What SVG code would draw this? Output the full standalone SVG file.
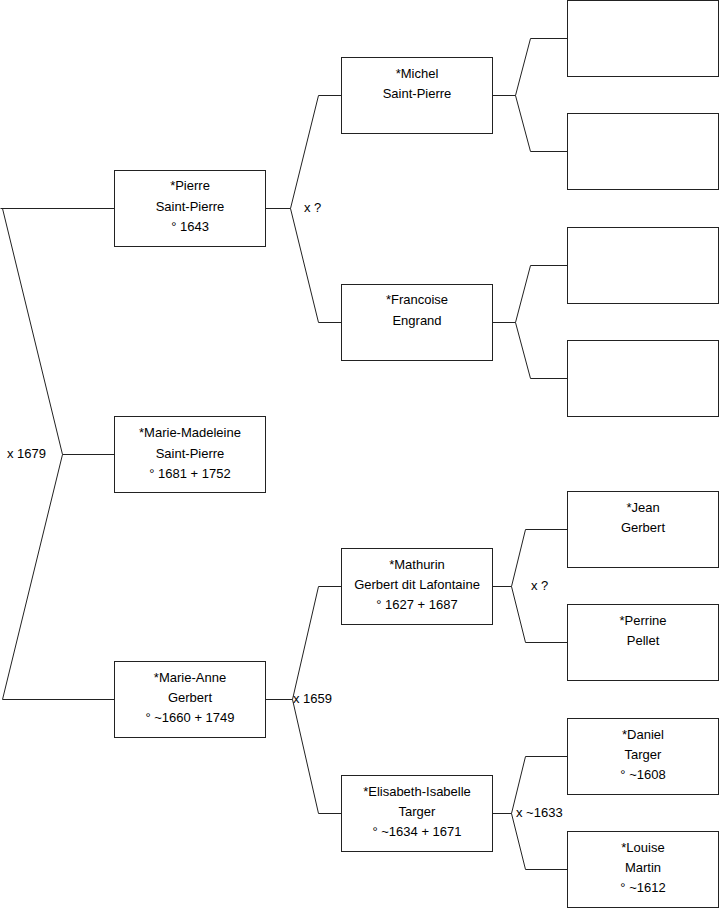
<svg xmlns="http://www.w3.org/2000/svg" width="719" height="908" viewBox="0 0 719 908">
<style>
.box{fill:#fff;stroke:#222;stroke-width:1}
.c{fill:none;stroke:#222;stroke-width:1}
text{font-family:"Liberation Sans",Arial,sans-serif;font-size:13px;fill:#000}
.m{text-anchor:middle}
</style>
<rect width="719" height="908" fill="#fff"/>
<g id="connectors">
<path class="c" d="M0.5,208.5H114.5M2.5,208.5L62.5,454.5H114.5M62.5,454.5L2.5,699.5H114.5"/>
<path class="c" d="M265.5,208.5H290.5L318.5,95.5H341.5M290.5,208.5L318.5,322.5H341.5"/>
<path class="c" d="M265.5,699.5H292.5L318.5,586.5H341.5M292.5,699.5L318.5,813.5H341.5"/>
<path class="c" d="M492.5,95.5H515.5L530.5,38.5H567.5M515.5,95.5L530.5,151.5H567.5"/>
<path class="c" d="M492.5,322.5H515.5L530.5,265.5H567.5M515.5,322.5L530.5,378.5H567.5"/>
<path class="c" d="M492.5,586.5H511.5L525.5,529.5H567.5M511.5,586.5L525.5,642.5H567.5"/>
<path class="c" d="M492.5,813.5H511.5L525.5,756.5H567.5M511.5,813.5L525.5,869.5H567.5"/>
<text x="7" y="458">x 1679</text>
<text x="304" y="212">x ?</text>
<text x="293" y="703">x 1659</text>
<text x="531" y="590">x ?</text>
<text x="516" y="817">x ~1633</text>
</g>
<g id="pierre"><rect class="box" x="114.5" y="170.5" width="151" height="76"/>
<text class="m" x="190" y="190">*Pierre</text><text class="m" x="190" y="211">Saint-Pierre</text><text class="m" x="190" y="231">° 1643</text></g>
<g id="marie-madeleine"><rect class="box" x="114.5" y="416.5" width="151" height="76"/>
<text class="m" x="190" y="437">*Marie-Madeleine</text><text class="m" x="190" y="458">Saint-Pierre</text><text class="m" x="190" y="478">° 1681 + 1752</text></g>
<g id="marie-anne"><rect class="box" x="114.5" y="661.5" width="151" height="76"/>
<text class="m" x="190" y="682">*Marie-Anne</text><text class="m" x="190" y="702">Gerbert</text><text class="m" x="190" y="722">° ~1660 + 1749</text></g>
<g id="michel"><rect class="box" x="341.5" y="57.5" width="151" height="76"/>
<text class="m" x="417" y="78">*Michel</text><text class="m" x="417" y="98">Saint-Pierre</text></g>
<g id="francoise"><rect class="box" x="341.5" y="284.5" width="151" height="76"/>
<text class="m" x="417" y="304">*Francoise</text><text class="m" x="417" y="325">Engrand</text></g>
<g id="mathurin"><rect class="box" x="341.5" y="548.5" width="151" height="76"/>
<text class="m" x="417" y="569">*Mathurin</text><text class="m" x="417" y="589">Gerbert dit Lafontaine</text><text class="m" x="417" y="609">° 1627 + 1687</text></g>
<g id="elisabeth"><rect class="box" x="341.5" y="775.5" width="151" height="76"/>
<text class="m" x="417" y="796">*Elisabeth-Isabelle</text><text class="m" x="417" y="816">Targer</text><text class="m" x="417" y="836">° ~1634 + 1671</text></g>
<g id="empty1"><rect class="box" x="567.5" y="0.5" width="151" height="76"/></g>
<g id="empty2"><rect class="box" x="567.5" y="113.5" width="151" height="76"/></g>
<g id="empty3"><rect class="box" x="567.5" y="227.5" width="151" height="76"/></g>
<g id="empty4"><rect class="box" x="567.5" y="340.5" width="151" height="76"/></g>
<g id="jean"><rect class="box" x="567.5" y="491.5" width="151" height="76"/>
<text class="m" x="643" y="512">*Jean</text><text class="m" x="643" y="532">Gerbert</text></g>
<g id="perrine"><rect class="box" x="567.5" y="604.5" width="151" height="76"/>
<text class="m" x="643" y="625">*Perrine</text><text class="m" x="643" y="645">Pellet</text></g>
<g id="daniel"><rect class="box" x="567.5" y="718.5" width="151" height="76"/>
<text class="m" x="643" y="739">*Daniel</text><text class="m" x="643" y="759">Targer</text><text class="m" x="643" y="779">° ~1608</text></g>
<g id="louise"><rect class="box" x="567.5" y="831.5" width="151" height="76"/>
<text class="m" x="643" y="852">*Louise</text><text class="m" x="643" y="872">Martin</text><text class="m" x="643" y="892">° ~1612</text></g>
</svg>
